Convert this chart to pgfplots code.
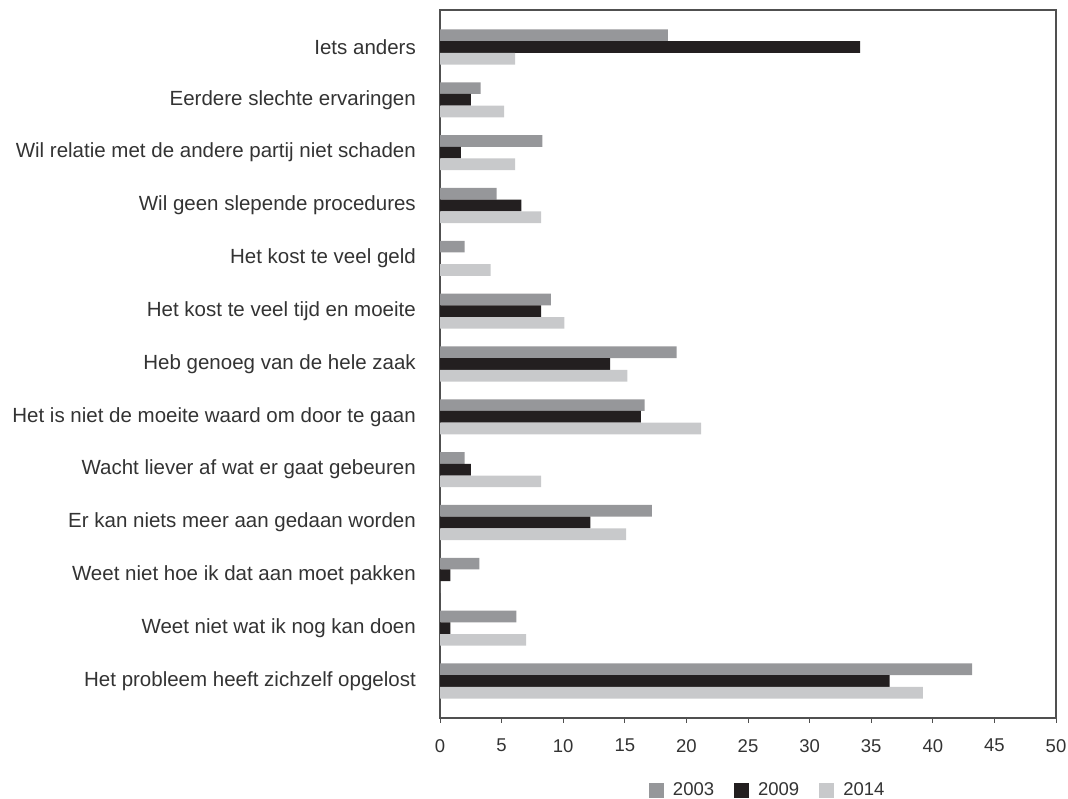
\documentclass[border=0pt]{standalone}
\usepackage{pgfplots}
\pgfplotsset{compat=1.18}
\usepackage{pgfplotstable}
\usepackage{fontspec}
\setmainfont{Liberation Sans}
\definecolor{cA}{HTML}{96979A}
\definecolor{cB}{HTML}{231F20}
\definecolor{cC}{HTML}{C8C9CB}
\definecolor{txt}{HTML}{333333}
\definecolor{frame}{HTML}{505050}

\pgfplotstableread{
y  a2003 b2009 c2014
0  43.2  36.5  39.2
1  6.2   0.85  7.0
2  3.2   0.85  0
3  17.2  12.2  15.1
4  2.0   2.5   8.2
5  16.6  16.3  21.2
6  19.2  13.8  15.2
7  9.0   8.2   10.1
8  2.0   0     4.1
9  4.6   6.6   8.2
10 8.3   1.7   6.1
11 3.3   2.5   5.2
12 18.5  34.1  6.1
}\datatable

\begin{document}
\begin{tikzpicture}
\path[use as bounding box] (0pt,0pt) rectangle (1068pt,799pt);
\begin{axis}[
  at={(440pt,81pt)}, anchor=south west,
  scale only axis, width=616pt, height=708pt,
  xbar, bar width=11.7pt,
  xmin=0, xmax=50, ymin=-0.7, ymax=12.7,
  xtick={0,5,...,50},
  ytick={0,...,12},
  yticklabels={Het probleem heeft zichzelf opgelost,
    Weet niet wat ik nog kan doen,
    Weet niet hoe ik dat aan moet pakken,
    Er kan niets meer aan gedaan worden,
    Wacht liever af wat er gaat gebeuren,
    Het is niet de moeite waard om door te gaan,
    Heb genoeg van de hele zaak,
    Het kost te veel tijd en moeite,
    Het kost te veel geld,
    Wil geen slepende procedures,
    Wil relatie met de andere partij niet schaden,
    Eerdere slechte ervaringen,
    Iets anders},
  axis line style={draw=frame, line width=1.2pt},
  x tick style={draw=frame, line width=0.8pt},
  major tick length=5pt,
  xtick pos=bottom, xtick align=outside,
  y tick style={draw=none},
  ytick pos=left,
  /pgf/number format/assume math mode=true,
  xticklabel style={font=\fontsize{18.5}{20}\selectfont, text=txt, inner sep=0pt, yshift=-16pt},
  yticklabel style={font=\fontsize{20.5}{22}\selectfont, text=txt, inner sep=0pt, anchor=east, xshift=-19pt},
  legend columns=3,
  legend style={draw=none, at={(0.532,-0.102)}, anchor=center,
    font=\fontsize{18.5}{20}\selectfont, text=txt,
    /tikz/every odd column/.append style={column sep=7pt},
    /tikz/every even column/.append style={column sep=18pt}},
  legend image code/.code={\path[#1,draw=none] (0pt,-7.5pt) rectangle (15pt,7.5pt);},
]
\addplot[fill=cA, draw=none, bar shift=11.7pt] table[x=a2003, y=y] {\datatable};
\addplot[fill=cB, draw=none, bar shift=0pt] table[x=b2009, y=y] {\datatable};
\addplot[fill=cC, draw=none, bar shift=-11.7pt] table[x=c2014, y=y] {\datatable};
\legend{2003,2009,2014}
\end{axis}
\end{tikzpicture}
\end{document}
